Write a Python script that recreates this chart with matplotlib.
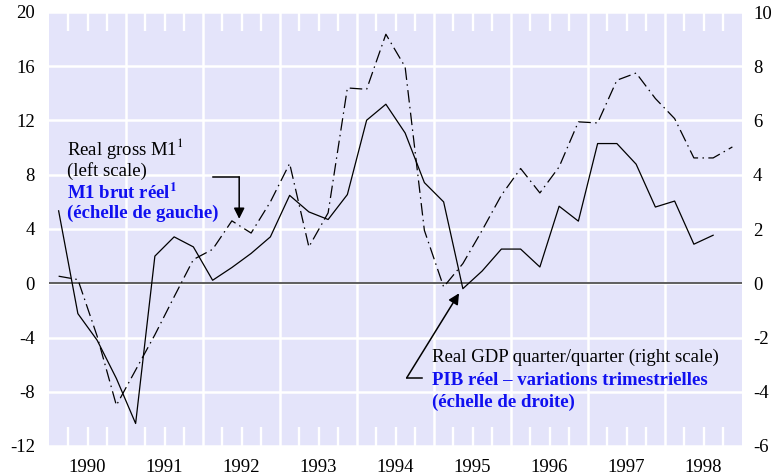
"""Real gross M1 vs real GDP, quarterly changes."""
import matplotlib
matplotlib.use("Agg")
import matplotlib.pyplot as plt
from matplotlib.ticker import FixedLocator, FuncFormatter

plt.rcParams['font.family'] = ['Liberation Serif', 'DejaVu Serif']
plt.rcParams['mathtext.fontset'] = 'stix'
plt.rcParams['axes.unicode_minus'] = False

# quarterly data, 1990Q1 onwards
years = [1990, 1991, 1992, 1993, 1994, 1995, 1996, 1997, 1998]

# real GDP quarter/quarter, right scale (1990Q1 - 1998Q3)
gdp = [2.67, -1.12, -2.1, -3.51, -5.17, 1.0, 1.71, 1.34,
       0.11, 0.58, 1.1, 1.71, 3.24, 2.63, 2.35, 3.27,
       6.01, 6.6, 5.54, 3.71, 3.0, -0.2, 0.45, 1.26,
       1.26, 0.6, 2.84, 2.29, 5.15, 5.15, 4.39, 2.81,
       3.03, 1.44, 1.77]

# real gross M1, left scale (1990Q1 - 1998Q4)
m1 = [0.52, 0.27, -3.9, -9.0, -6.4, -3.8, -1.0, 1.75,
      2.5, 4.6, 3.7, 6.0, 8.83, 2.68, 5.19, 14.4,
      14.3, 18.36, 15.95, 3.9, -0.27, 1.45, 3.9, 6.49,
      8.46, 6.66, 8.58, 11.9, 11.82, 14.97, 15.5, 13.62,
      12.14, 9.24, 9.24, 10.05]

left_ticks = [-12, -8, -4, 0, 4, 8, 12, 16, 20]
right_ticks = [-6, -4, -2, 0, 2, 4, 6, 8, 10]

bg = '#e4e4fa'
blue = '#1010f0'

fig = plt.figure(figsize=(7.76, 4.74), dpi=100)
ax = fig.add_axes([49 / 776, 28 / 474, 693 / 776, 434 / 474])
ax.set_facecolor(bg)
ax2 = ax.twinx()

qx_gdp = [years[0] + (i + 0.5) / 4 for i in range(len(gdp))]
qx_m1 = [years[0] + (i + 0.5) / 4 for i in range(len(m1))]

ax.set_xlim(years[0], years[-1] + 1)
ax.set_ylim(left_ticks[0], left_ticks[-1])
ax2.set_ylim(right_ticks[0], right_ticks[-1])

# year separators as major grid, quarter marks as minor ticks
ax.xaxis.set_major_locator(FixedLocator(years[1:]))
ax.xaxis.set_major_formatter(FuncFormatter(lambda v, p: ''))
quarters = [y + q / 4 for y in years for q in (1, 2, 3)]
ax.xaxis.set_minor_locator(FixedLocator(quarters))
ax.xaxis.set_minor_formatter(
    FuncFormatter(lambda v, p: str(int(v)) if abs(v % 1 - 0.5) < 1e-6 else ''))
ax.tick_params(axis='x', which='major', length=0)
ax.tick_params(axis='x', which='minor', direction='in', length=13.5, width=1.7,
               color='white', top=True, bottom=True, pad=9, labelsize=13.5)

ax.set_yticks(left_ticks)
ax.tick_params(axis='y', length=0, pad=10, labelsize=13.5)
ax2.set_yticks(right_ticks)
ax2.tick_params(axis='y', length=0, pad=8, labelsize=13.5)
for lab in ax2.get_yticklabels():
    lab.set_horizontalalignment('left')

ax.grid(True, which='major', color='white', linewidth=1.8)
ax.set_axisbelow(True)
for a in (ax, ax2):
    for s in a.spines.values():
        s.set_visible(False)

ax.axhline(0, color='#333333', linewidth=1.1, zorder=2)

ax.plot(qx_m1, m1, color='black', linewidth=0.9,
        linestyle=(0, (10, 3.5, 1.2, 3.5)), zorder=3)
ax2.plot(qx_gdp, gdp, color='black', linewidth=0.9, zorder=3)

# annotations
fs = 13.5
ax.text(1990.234, 9.96, 'Real gross M1$^1$', fontsize=fs, va='center')
ax.text(1990.234, 8.26, '(left scale)', fontsize=fs, va='center')
ax.text(1990.234, 6.64, r'M1 brut réel$^\mathbf{1}$', fontsize=fs, va='center',
        color=blue, fontweight='bold')
ax.text(1990.234, 5.16, '(échelle de gauche)', fontsize=fs, va='center',
        color=blue, fontweight='bold')
ax.plot([1992.13, 1992.47], [7.84, 7.84], color='black', linewidth=1.1)
ax.annotate('', xy=(1992.47, 4.75), xytext=(1992.47, 7.84),
            arrowprops=dict(arrowstyle='-|>', color='black', lw=1.1,
                            mutation_scale=16, shrinkA=0, shrinkB=0))

ax.text(1994.974, -5.46, 'Real GDP quarter/quarter (right scale)',
        fontsize=fs, va='center')
ax.text(1994.974, -7.15, 'PIB réel – variations trimestrielles', fontsize=fs,
        va='center', color=blue, fontweight='bold')
ax.text(1994.974, -8.78, '(échelle de droite)', fontsize=fs, va='center',
        color=blue, fontweight='bold')
ax.plot([1994.84, 1994.645], [-6.98, -6.98], color='black', linewidth=1.1)
ax.annotate('', xy=(1995.325, -0.74), xytext=(1994.645, -6.98),
            arrowprops=dict(arrowstyle='-|>', color='black', lw=1.1,
                            mutation_scale=16, shrinkA=0, shrinkB=0))

fig.savefig('out.png', dpi=100)
